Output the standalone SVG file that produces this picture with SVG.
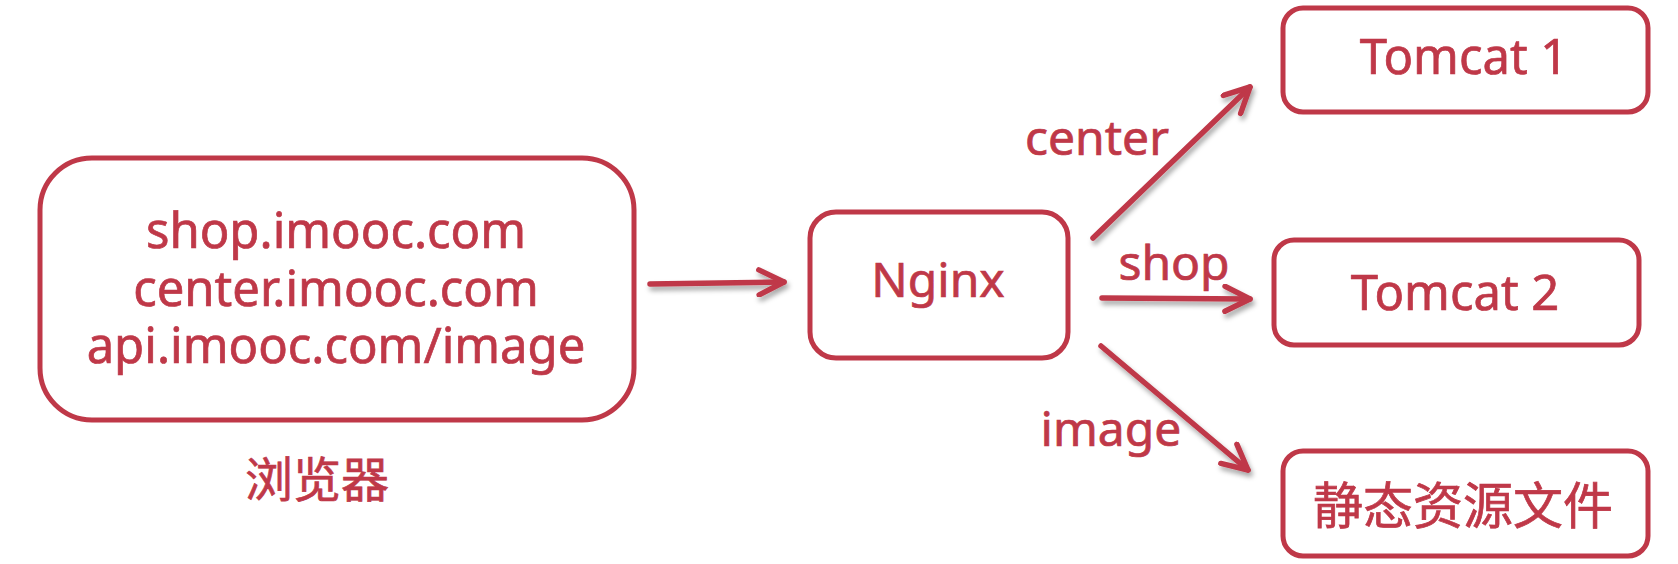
<svg xmlns="http://www.w3.org/2000/svg" width="1678" height="564" viewBox="0 0 1678 564">
<defs>
<style>
.box{fill:#ffffff;stroke:#bf3848;stroke-width:5}
.t{fill:#bf3848;stroke:#bf3848;stroke-width:0.7;font-family:"Noto Sans","Noto Sans CJK SC",sans-serif;text-anchor:middle}
.c{stroke:#bf3848;stroke-width:5.5;stroke-linecap:round;stroke-linejoin:round;fill:none}
</style>
<filter id="sh" x="-20%" y="-20%" width="140%" height="160%">
<feDropShadow dx="2" dy="4" stdDeviation="2.5" flood-color="#000" flood-opacity="0.35"/>
</filter>
<marker id="ah" viewBox="-30 -15 34 30" refX="0" refY="0" markerWidth="34" markerHeight="30" markerUnits="userSpaceOnUse" orient="auto">
<path d="M-25,-12.5 L0,0 L-25,12.5" fill="none" stroke="#bf3848" stroke-width="5.5" stroke-linecap="round" stroke-linejoin="round"/>
</marker>
</defs>
<rect width="1678" height="564" fill="#ffffff"/>
<g id="browser">
<rect class="box" x="40" y="158" width="594" height="262" rx="52"/>
<text class="t" font-size="49"><tspan x="336" y="248">shop.imooc.com</tspan><tspan x="336" y="306">center.imooc.com</tspan><tspan x="336" y="363">api.imooc.com/image</tspan></text>
<text class="t" x="317" y="497" font-size="48">浏览器</text>
</g>
<g id="nginx">
<rect class="box" x="810" y="212" width="258" height="146" rx="26"/>
<text class="t" x="938" y="297" font-size="48">Nginx</text>
</g>
<g id="tomcat1">
<rect class="box" x="1283" y="8" width="365" height="104" rx="20"/>
<text class="t" x="1464" y="74" font-size="49">Tomcat 1</text>
</g>
<g id="tomcat2">
<rect class="box" x="1274" y="240" width="365" height="105" rx="20"/>
<text class="t" x="1455" y="310" font-size="49">Tomcat 2</text>
</g>
<g id="static">
<rect class="box" x="1283" y="451" width="365" height="105" rx="20"/>
<text class="t" x="1463" y="524" font-size="50">静态资源文件</text>
</g>
<g id="connectors" filter="url(#sh)">
<line class="c" x1="650" y1="284" x2="784" y2="282" marker-end="url(#ah)"/>
<line class="c" x1="1093" y1="238" x2="1250" y2="87" marker-end="url(#ah)"/>
<line class="c" x1="1102" y1="298" x2="1250" y2="299" marker-end="url(#ah)"/>
<line class="c" x1="1101" y1="346" x2="1248" y2="470" marker-end="url(#ah)"/>
</g>
<g id="labels">
<text class="t" x="1097" y="155" font-size="48">center</text>
<text class="t" x="1174" y="280" font-size="48">shop</text>
<text class="t" x="1111" y="446" font-size="48">image</text>
</g>
</svg>
